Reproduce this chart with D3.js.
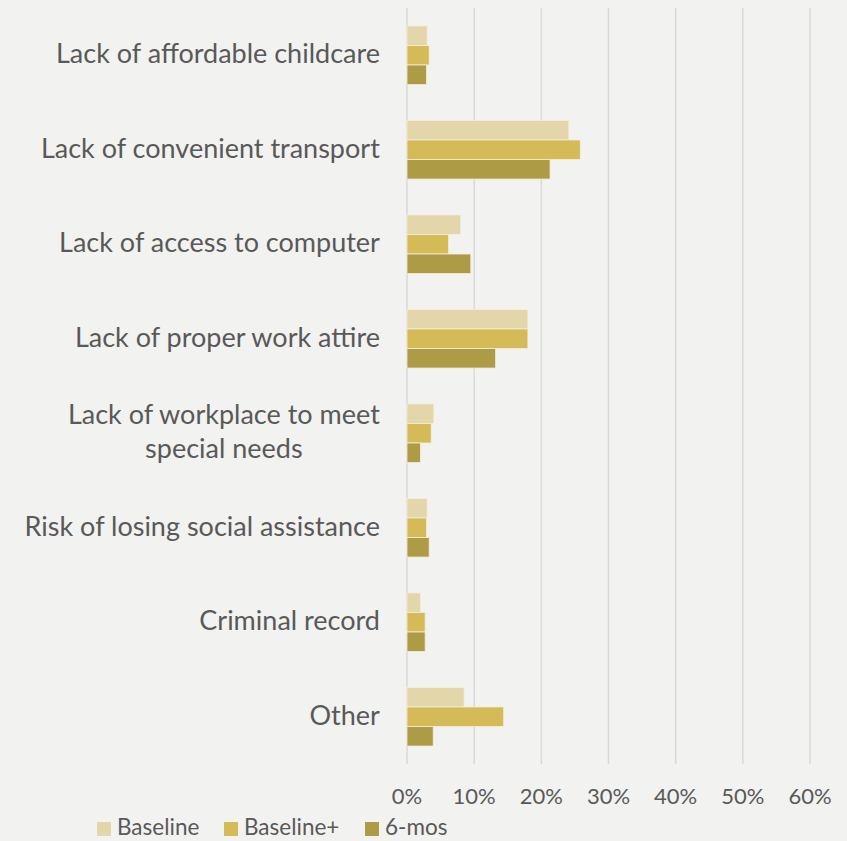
<!DOCTYPE html>
<html>
<head>
<meta charset="utf-8">
<script src="https://cdn.jsdelivr.net/npm/d3@7"></script>
<style>
  body { margin: 0; background: #f2f2f0; }
  svg { display: block; }
</style>
</head>
<body>
<div id="chart"></div>
<script>
// barriers to employment, % of respondents
var categories = [
    ["Lack of affordable childcare"],
    ["Lack of convenient transport"],
    ["Lack of access to computer"],
    ["Lack of proper work attire"],
    ["Lack of workplace to meet", "special needs"],
    ["Risk of losing social assistance"],
    ["Criminal record"],
    ["Other"]
];
var seriesNames = ["Baseline", "Baseline+", "6-mos"];
var baseline     = [3.0, 24.1, 8.0, 18.0, 4.0, 3.0, 2.0, 8.5];
var baselinePlus = [3.3, 25.8, 6.2, 18.0, 3.6, 2.9, 2.7, 14.4];
var sixMos       = [2.9, 21.3, 9.5, 13.2, 2.0, 3.3, 2.7, 3.9];
var xTicks = [0, 10, 20, 30, 40, 50, 60];

var colors = ["#e2d6aa", "#d4bb57", "#ae9b45"];
var textColor = "#595959";
var font = "Lato, 'Open Sans', sans-serif";

var W = 847, H = 841;
var plotLeft = 407, plotRight = 810, plotTop = 8, plotBottom = 764;

var svg = d3.select("#chart").append("svg")
    .attr("width", W)
    .attr("height", H)
    .style("background", "#f2f2f0");

var x = d3.scaleLinear().domain([0, 60]).range([plotLeft, plotRight]);

var y = d3.scaleBand()
    .domain(d3.range(categories.length))
    .range([plotTop, plotBottom])
    .paddingInner(0.38)
    .paddingOuter(0.19);

var ySub = d3.scaleBand()
    .domain(d3.range(seriesNames.length))
    .range([0, y.bandwidth()]);

// gridlines
svg.append("g")
    .selectAll("line")
    .data(xTicks)
    .enter()
    .append("line")
    .attr("x1", function(d) { return x(d); })
    .attr("x2", function(d) { return x(d); })
    .attr("y1", plotTop)
    .attr("y2", plotBottom)
    .attr("stroke", "#d9d9d9")
    .attr("stroke-width", 1.5);

// bars
var allSeries = [baseline, baselinePlus, sixMos];

allSeries.forEach(function(values, s) {
    svg.append("g")
        .selectAll("rect")
        .data(values)
        .enter()
        .append("rect")
        .attr("x", x(0))
        .attr("y", function(d, i) { return y(i) + ySub(s); })
        .attr("width", function(d) { return x(d) - x(0); })
        .attr("height", ySub.bandwidth())
        .attr("fill", colors[s])
        .attr("stroke", "#f4efdc")
        .attr("stroke-width", 0.8);
});

// category labels
var labels = svg.append("g")
    .selectAll("text")
    .data(categories)
    .enter()
    .append("text")
    .attr("text-anchor", "middle")
    .attr("font-family", font)
    .attr("font-size", 27)
    .attr("fill", textColor);

labels.each(function(lines, i) {
    var t = d3.select(this);
    var cy = y(i) + y.bandwidth() / 2;
    var lh = 34;
    var y0 = cy - (lines.length - 1) * lh / 2 + 8;
    lines.forEach(function(l, k) {
        t.append("tspan")
            .attr("x", 0)
            .attr("y", y0 + k * lh)
            .text(l);
    });
});

// right-align, but center the wrapped lines over each other
labels.each(function(lines) {
    var t = d3.select(this);
    var w = this.getBBox().width;
    t.selectAll("tspan").attr("x", 380 - w / 2);
});

// x axis tick labels
svg.append("g")
    .selectAll("text")
    .data(xTicks)
    .enter()
    .append("text")
    .attr("x", function(d) { return x(d); })
    .attr("y", 804)
    .attr("text-anchor", "middle")
    .attr("font-family", font)
    .attr("font-size", 22)
    .attr("fill", textColor)
    .text(function(d) { return d + "%"; });

// legend
var legendX = [97, 224, 365];
var legend = svg.append("g")
    .selectAll("g")
    .data(seriesNames)
    .enter()
    .append("g")
    .attr("transform", function(d, i) { return "translate(" + legendX[i] + ",822)"; });

legend.append("rect")
    .attr("width", 14)
    .attr("height", 14)
    .attr("fill", function(d, i) { return colors[i]; });

legend.append("text")
    .attr("x", 20)
    .attr("y", 13)
    .attr("font-family", font)
    .attr("font-size", 22.5)
    .attr("fill", textColor)
    .text(function(d) { return d; });
</script>
</body>
</html>
